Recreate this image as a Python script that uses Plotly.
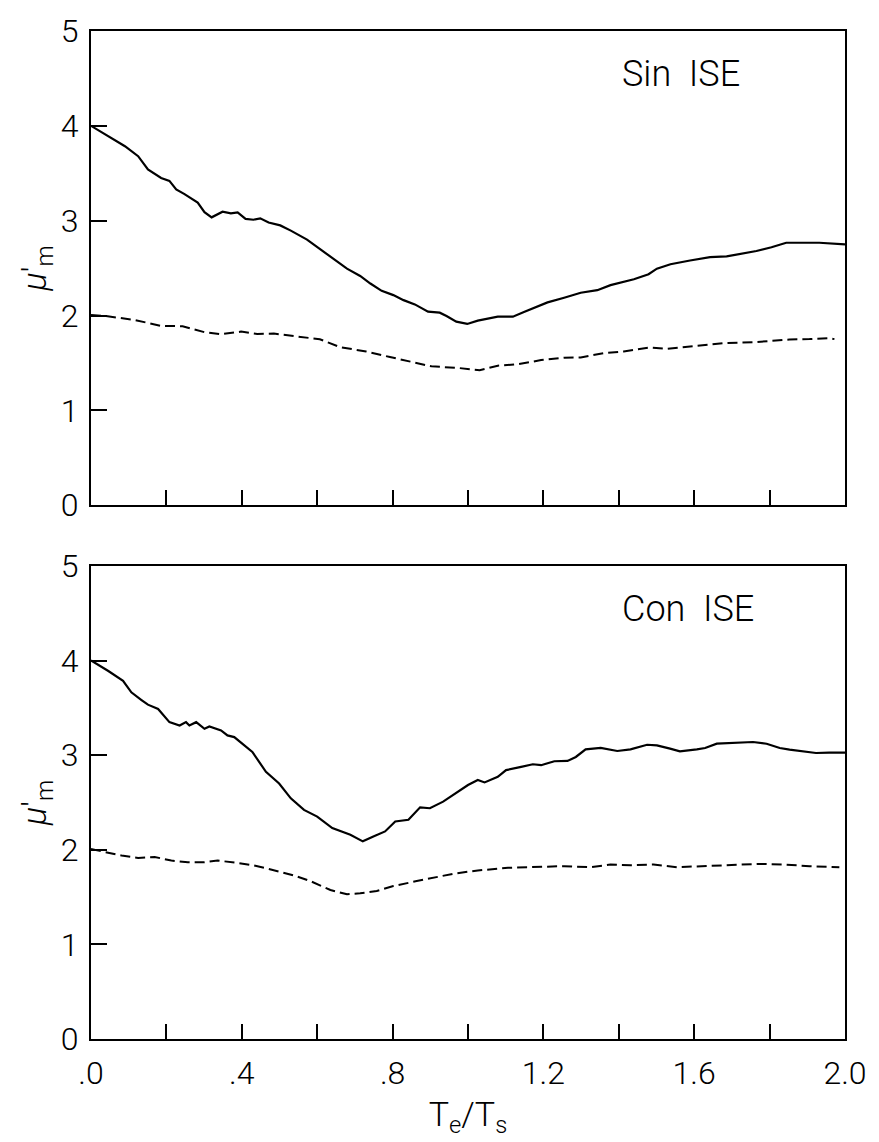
import plotly.graph_objects as go
from plotly.subplots import make_subplots

# ---- Sin ISE panel ----
sin_solid_x = [0.0, 0.046, 0.090, 0.125, 0.151, 0.186, 0.208, 0.226, 0.248, 0.283, 0.301, 0.320,
               0.349, 0.371, 0.389, 0.410, 0.431, 0.449, 0.471, 0.502, 0.530, 0.573, 0.600, 0.635,
               0.679, 0.714, 0.741, 0.771, 0.802, 0.829, 0.859, 0.894, 0.925, 0.943, 0.969, 0.998,
               1.026, 1.079, 1.119, 1.150, 1.185, 1.211, 1.255, 1.299, 1.343, 1.378, 1.440, 1.479,
               1.501, 1.537, 1.589, 1.642, 1.686, 1.730, 1.765, 1.805, 1.844, 1.888, 1.932, 2.0]
sin_solid_y = [4.00, 3.89, 3.785, 3.68, 3.54, 3.45, 3.42, 3.33, 3.28, 3.19, 3.09, 3.035,
               3.094, 3.077, 3.087, 3.018, 3.01, 3.024, 2.98, 2.95, 2.895, 2.80, 2.72, 2.616,
               2.494, 2.417, 2.337, 2.26, 2.215, 2.162, 2.117, 2.04, 2.03, 1.995, 1.935, 1.911,
               1.946, 1.988, 1.988, 2.04, 2.10, 2.138, 2.187, 2.24, 2.267, 2.32, 2.382, 2.435,
               2.494, 2.54, 2.58, 2.616, 2.623, 2.651, 2.68, 2.72, 2.767, 2.767, 2.767, 2.749]

sin_dashed_x = [0.0, 0.037, 0.116, 0.186, 0.243, 0.301, 0.345, 0.398, 0.441, 0.485, 0.547, 0.607,
                0.660, 0.730, 0.793, 0.881, 0.903, 0.974, 1.031, 1.079, 1.132, 1.194, 1.255, 1.299,
                1.361, 1.413, 1.484, 1.528, 1.607, 1.677, 1.765, 1.853, 1.906, 1.958, 1.972]
sin_dashed_y = [2.005, 1.995, 1.953, 1.89, 1.887, 1.824, 1.803, 1.83, 1.806, 1.81, 1.778, 1.75,
                1.667, 1.62, 1.562, 1.489, 1.464, 1.447, 1.422, 1.471, 1.485, 1.53, 1.555, 1.558,
                1.604, 1.621, 1.663, 1.649, 1.681, 1.709, 1.72, 1.747, 1.751, 1.761, 1.751]

# ---- Con ISE panel ----
con_solid_x = [0.0, 0.046, 0.085, 0.107, 0.134, 0.151, 0.178, 0.208, 0.235, 0.252, 0.261, 0.279,
               0.301, 0.314, 0.345, 0.362, 0.380, 0.406, 0.428, 0.464, 0.499, 0.530, 0.565, 0.600,
               0.640, 0.688, 0.721, 0.749, 0.780, 0.807, 0.842, 0.873, 0.899, 0.934, 0.978, 1.0,
               1.026, 1.044, 1.079, 1.101, 1.141, 1.172, 1.194, 1.229, 1.264, 1.286, 1.312, 1.352,
               1.396, 1.431, 1.475, 1.501, 1.536, 1.562, 1.607, 1.629, 1.660, 1.712, 1.756, 1.792,
               1.827, 1.853, 1.888, 1.923, 1.958, 2.0]
con_solid_y = [4.00, 3.89, 3.786, 3.664, 3.583, 3.534, 3.488, 3.349, 3.314, 3.349, 3.314, 3.349,
               3.279, 3.303, 3.262, 3.209, 3.191, 3.104, 3.034, 2.824, 2.701, 2.544, 2.422, 2.351,
               2.229, 2.159, 2.089, 2.141, 2.194, 2.299, 2.317, 2.449, 2.439, 2.509, 2.632, 2.684,
               2.737, 2.712, 2.771, 2.842, 2.876, 2.904, 2.894, 2.936, 2.939, 2.981, 3.062, 3.076,
               3.044, 3.062, 3.110, 3.104, 3.069, 3.041, 3.062, 3.076, 3.121, 3.131, 3.139, 3.121,
               3.076, 3.058, 3.044, 3.023, 3.027, 3.027]

con_dashed_x = [0.0, 0.037, 0.081, 0.125, 0.169, 0.213, 0.257, 0.301, 0.336, 0.389, 0.433, 0.477,
                0.538, 0.582, 0.635, 0.679, 0.714, 0.758, 0.802, 0.864, 0.917, 0.960, 1.011, 1.026,
                1.106, 1.194, 1.255, 1.325, 1.378, 1.431, 1.492, 1.554, 1.624, 1.703, 1.774, 1.836,
                1.906, 1.985]
con_dashed_y = [2.008, 1.974, 1.939, 1.914, 1.924, 1.886, 1.869, 1.869, 1.886, 1.861, 1.834, 1.792,
                1.729, 1.669, 1.575, 1.53, 1.54, 1.564, 1.617, 1.669, 1.711, 1.746, 1.774, 1.781,
                1.809, 1.816, 1.827, 1.816, 1.844, 1.837, 1.844, 1.816, 1.827, 1.834, 1.851, 1.844,
                1.827, 1.816]

panel_labels = ["Sin\u00a0\u00a0ISE", "Con\u00a0\u00a0ISE"]
x_major_vals = [0.0, 0.4, 0.8, 1.2, 1.6, 2.0]
x_major_text = [".0", ".4", ".8", "1.2", "1.6", "2.0"]
x_minor_vals = [0.2, 0.6, 1.0, 1.4, 1.8]
y_tick_vals = [0, 1, 2, 3, 4, 5]
y_tick_text = ["0", "1", "2", "3", "4", "5"]
y_title = "<i>μ</i>'<sub>m</sub>"
x_title = "T<sub>e</sub>/T<sub>s</sub>"

FONT = "Roboto"
W, H = 879, 1142

fig = make_subplots(rows=2, cols=1, vertical_spacing=0.0603)

panels = [
    (1, sin_solid_x, sin_solid_y, sin_dashed_x, sin_dashed_y),
    (2, con_solid_x, con_solid_y, con_dashed_x, con_dashed_y),
]
for row, sx, sy, dx, dy in panels:
    fig.add_trace(go.Scatter(x=sx, y=sy, mode="lines",
                             line=dict(color="black", width=2.2)), row=row, col=1)
    fig.add_trace(go.Scatter(x=dx, y=dy, mode="lines",
                             line=dict(color="black", width=2.0, dash="10px,5px")), row=row, col=1)

title_font = dict(family=FONT, size=34, color="black", weight=300)
axis_common = dict(showline=True, linecolor="black", linewidth=2, mirror=True,
                   ticks="inside", tickcolor="black", tickwidth=1.8,
                   showgrid=False, zeroline=False,
                   tickfont=dict(family=FONT, size=32, color="black", weight=300))

for row in (1, 2):
    fig.update_xaxes(range=[0, 2.0], tickmode="array", tickvals=x_major_vals,
                     ticktext=x_major_text, showticklabels=(row == 2),
                     ticklen=15, ticklabelstandoff=5,
                     minor=dict(tickmode="array", tickvals=x_minor_vals, ticks="inside",
                                ticklen=15, tickwidth=1.8, tickcolor="black", showgrid=False),
                     **axis_common, row=row, col=1)
    fig.update_yaxes(range=[0, 5], tickmode="array", tickvals=y_tick_vals,
                     ticktext=y_tick_text, ticklen=16, ticklabelstandoff=4,
                     title=dict(text=y_title, font=title_font, standoff=4),
                     **axis_common, row=row, col=1)

fig.update_xaxes(title=dict(text=x_title, font=title_font, standoff=11), row=2, col=1)

fig.layout.yaxis.domain = [0.5296, 1.0]
fig.layout.yaxis2.domain = [0.0, 0.4693]

# panel labels
for i, label in enumerate(panel_labels):
    fig.add_annotation(x=1.404, y=4.55, xref="x" if i == 0 else "x2",
                       yref="y" if i == 0 else "y2", text=label, showarrow=False,
                       xanchor="left", yanchor="middle",
                       font=dict(family=FONT, size=36, color="black", weight=300))

fig.update_layout(width=W, height=H, showlegend=False,
                  margin=dict(l=91, r=30, t=24, b=103),
                  paper_bgcolor="white", plot_bgcolor="white")

fig.write_html("out.html")
